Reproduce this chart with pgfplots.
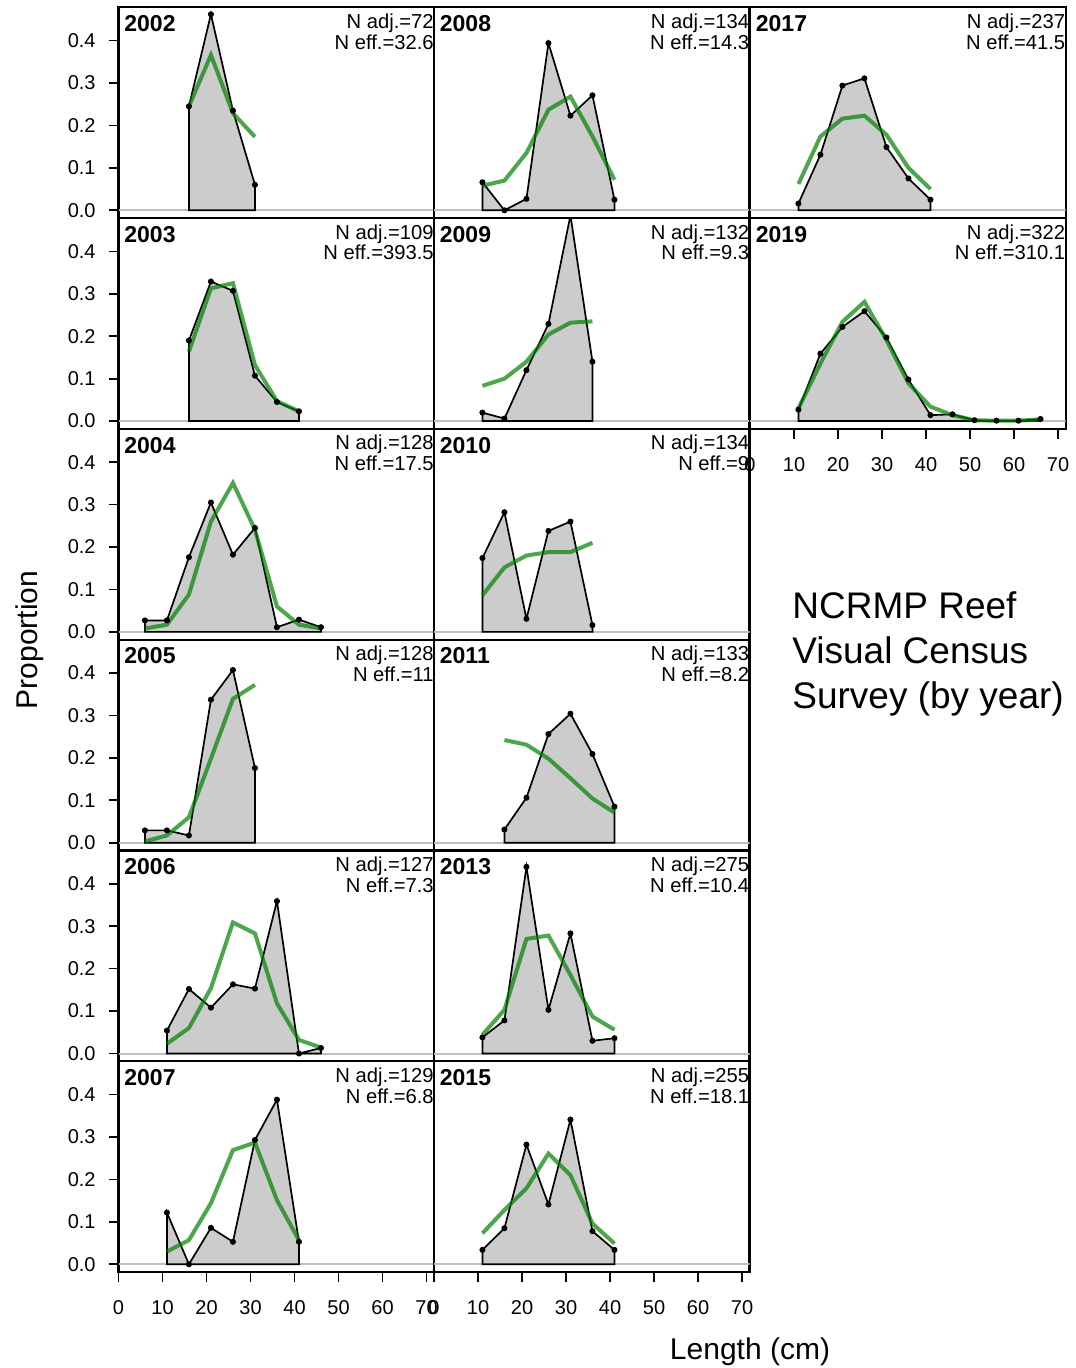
\documentclass[border=0pt]{standalone}
\usepackage{pgfplots}
\pgfplotsset{compat=1.18}
\usepackage{fontspec}
\setmainfont{Liberation Sans}
\definecolor{fillg}{RGB}{204,204,204}
\definecolor{expg}{RGB}{0,128,0}
\definecolor{zerol}{RGB}{190,190,190}

\pgfplotsset{
 panel/.style={
  scale only axis, width=157.8bp, height=105.4bp,
  xmin=0, xmax=71.7, ymin=-0.0184, ymax=0.4784,
  anchor=north west,
  axis line style={line width=1.1bp},
  xtick=\empty, ytick=\empty,
  tick align=outside,
  major tick length=5bp,
  every tick/.style={black, line width=0.85bp},
  tick label style={font=\fontsize{10bp}{12bp}\selectfont},
  /pgf/number format/assume math mode=true,
  clip marker paths=true,
 },
 ylab/.style={ytick={0,0.1,0.2,0.3,0.4}, ytick pos=left,
   yticklabel style={anchor=east, inner sep=0pt, xshift=-6.25bp,
     /pgf/number format/fixed, /pgf/number format/fixed zerofill, /pgf/number format/precision=1}},
 xlab/.style={xtick={0,10,...,70}, xtick pos=bottom,
   xticklabel style={anchor=north, inner sep=0pt, yshift=-9bp}},
}

\newcommand{\comp}[6]{%
\begin{axis}[panel, at={#1}, #2]
\addplot[zerol, line width=1bp] coordinates {(0,0) (71.7,0)};
\addplot[fill=fillg, draw=black, line width=0.85bp] coordinates {#5} \closedcycle;
\addplot[expg, opacity=0.7, line width=2bp] coordinates {#6};
\addplot[only marks, mark=*, mark size=1.3bp, black] coordinates {#5};
\node[anchor=north west, inner sep=0pt, font=\bfseries\fontsize{11.5bp}{13bp}\selectfont] at (rel axis cs:0,1) [xshift=2.75bp, yshift=-3.85bp] {#3};
\node[anchor=north east, inner sep=0pt, align=right, font=\fontsize{10.1bp}{9.2bp}\selectfont] at (rel axis cs:1,1) [yshift=-3bp] {#4};
\end{axis}}

\begin{document}
\begin{tikzpicture}
\useasboundingbox (0,0) rectangle (538bp,-684bp);

% column 1
\comp{(59.25bp,-3.65bp)}{ylab}{2002}{N adj.=72\\N eff.=32.6}
 {(16,0.245)(21,0.462)(26,0.235)(31,0.060)}
 {(16,0.245)(21,0.366)(26,0.229)(31,0.173)}
\comp{(59.25bp,-109.05bp)}{ylab}{2003}{N adj.=109\\N eff.=393.5}
 {(16,0.190)(21,0.329)(26,0.307)(31,0.107)(36,0.045)(41,0.023)}
 {(16,0.164)(21,0.313)(26,0.325)(31,0.132)(36,0.047)(41,0.023)}
\comp{(59.25bp,-214.45bp)}{ylab}{2004}{N adj.=128\\N eff.=17.5}
 {(6,0.027)(11,0.027)(16,0.176)(21,0.305)(26,0.182)(31,0.245)(36,0.011)(41,0.029)(46,0.011)}
 {(6,0.008)(11,0.017)(16,0.088)(21,0.260)(26,0.351)(31,0.241)(36,0.060)(41,0.017)(46,0.008)}
\comp{(59.25bp,-319.85bp)}{ylab}{2005}{N adj.=128\\N eff.=11}
 {(6,0.029)(11,0.029)(16,0.017)(21,0.337)(26,0.407)(31,0.176)}
 {(6,0.003)(11,0.017)(16,0.060)(21,0.198)(26,0.339)(31,0.372)}
\comp{(59.25bp,-425.25bp)}{ylab}{2006}{N adj.=127\\N eff.=7.3}
 {(11,0.054)(16,0.152)(21,0.108)(26,0.163)(31,0.153)(36,0.359)(41,0.0)(46,0.013)}
 {(11,0.023)(16,0.060)(21,0.154)(26,0.309)(31,0.283)(36,0.118)(41,0.032)(46,0.014)}
\comp{(59.25bp,-530.65bp)}{ylab,xlab}{2007}{N adj.=129\\N eff.=6.8}
 {(11,0.122)(16,0.0)(21,0.086)(26,0.053)(31,0.293)(36,0.388)(41,0.053)}
 {(11,0.030)(16,0.057)(21,0.144)(26,0.269)(31,0.287)(36,0.151)(41,0.057)}

% column 2
\comp{(217bp,-3.65bp)}{}{2008}{N adj.=134\\N eff.=14.3}
 {(11,0.066)(16,0.0)(21,0.027)(26,0.394)(31,0.223)(36,0.271)(41,0.025)}
 {(11,0.058)(16,0.070)(21,0.135)(26,0.237)(31,0.268)(36,0.174)(41,0.072)}
\comp{(217bp,-109.05bp)}{}{2009}{N adj.=132\\N eff.=9.3}
 {(11,0.020)(16,0.006)(21,0.120)(26,0.229)(31,0.485)(36,0.140)}
 {(11,0.083)(16,0.100)(21,0.140)(26,0.204)(31,0.232)(36,0.235)}
\comp{(217bp,-214.45bp)}{}{2010}{N adj.=134\\N eff.=9}
 {(11,0.174)(16,0.282)(21,0.031)(26,0.238)(31,0.260)(36,0.016)}
 {(11,0.086)(16,0.152)(21,0.180)(26,0.188)(31,0.188)(36,0.210)}
\comp{(217bp,-319.85bp)}{}{2011}{N adj.=133\\N eff.=8.2}
 {(16,0.031)(21,0.106)(26,0.256)(31,0.304)(36,0.209)(41,0.085)}
 {(16,0.242)(21,0.231)(26,0.198)(31,0.152)(36,0.104)(41,0.071)}
\comp{(217bp,-425.25bp)}{}{2013}{N adj.=275\\N eff.=10.4}
 {(11,0.038)(16,0.078)(21,0.440)(26,0.103)(31,0.283)(36,0.030)(41,0.036)}
 {(11,0.044)(16,0.103)(21,0.270)(26,0.278)(31,0.185)(36,0.087)(41,0.056)}
\comp{(217bp,-530.65bp)}{xlab}{2015}{N adj.=255\\N eff.=18.1}
 {(11,0.034)(16,0.085)(21,0.282)(26,0.141)(31,0.341)(36,0.078)(41,0.034)}
 {(11,0.073)(16,0.128)(21,0.179)(26,0.261)(31,0.210)(36,0.096)(41,0.049)}

% column 3
\comp{(375bp,-3.65bp)}{}{2017}{N adj.=237\\N eff.=41.5}
 {(11,0.016)(16,0.131)(21,0.294)(26,0.311)(31,0.149)(36,0.075)(41,0.025)}
 {(11,0.062)(16,0.174)(21,0.216)(26,0.223)(31,0.178)(36,0.100)(41,0.050)}
\comp{(375bp,-109.05bp)}{xlab}{2019}{N adj.=322\\N eff.=310.1}
 {(11,0.027)(16,0.159)(21,0.222)(26,0.259)(31,0.197)(36,0.098)(41,0.014)(46,0.016)(51,0.002)(56,0.001)(61,0.001)(66,0.005)}
 {(11,0.030)(16,0.136)(21,0.234)(26,0.281)(31,0.191)(36,0.089)(41,0.034)(46,0.014)(51,0.002)(56,0.001)(61,0.001)(66,0.004)}

\node[rotate=90, inner sep=0pt, font=\fontsize{15bp}{18bp}\selectfont] at (15bp,-320bp) {Proportion};
\node[inner sep=0pt, font=\fontsize{15bp}{18bp}\selectfont] at (375bp,-676bp) {Length (cm)};
\node[anchor=west, inner sep=0pt, align=left, font=\fontsize{18.5bp}{22.5bp}\selectfont] at (396bp,-327bp) {NCRMP Reef\\Visual Census\\Survey (by year)};
\end{tikzpicture}
\end{document}
